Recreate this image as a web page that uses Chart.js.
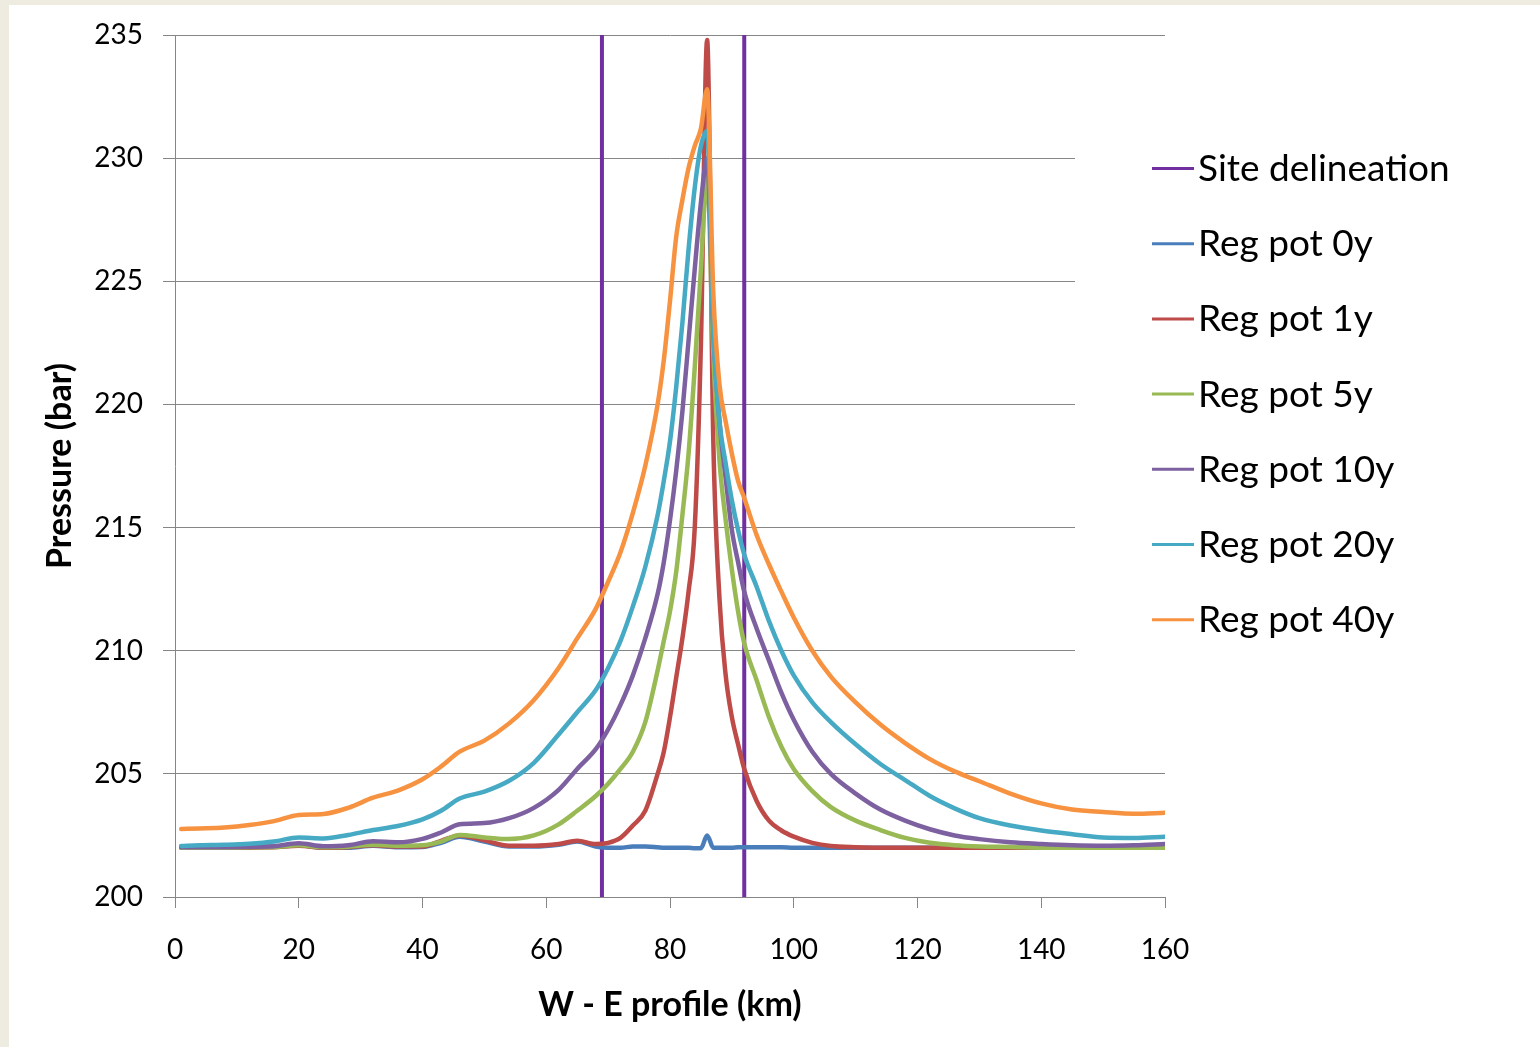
<!DOCTYPE html>
<html lang="en">
<head>
<meta charset="UTF-8">
<title>W - E pressure profile</title>
<style>
    html, body { margin: 0; padding: 0; background: #eeece1; }
    .frame { position: absolute; left: 9px; top: 5px; width: 1531px; height: 1042px; background: #fff; }
</style>
</head>
<body>
<div class="frame"><canvas id="chart"></canvas></div>

<script src="https://cdn.jsdelivr.net/npm/chart.js"></script>
<script>
// distance along the W - E profile (km)
const km = [1, 4, 8, 12, 16, 20, 24, 28, 32, 36,
            40, 43, 46, 50, 54, 58, 62, 65, 68, 70,
            72, 74, 76, 78, 79, 80, 81, 82, 83, 84,
            85, 86, 87, 88, 89, 90, 91, 92, 94, 96,
            98, 100, 103, 106, 110, 114, 118, 122, 126, 130,
            135, 140, 145, 150, 155, 160];

// pressure (bar) for each time step
const pot0 = [202.05, 202.07, 202.07, 202.05, 202.05, 202.1, 202.0, 202.0, 202.08, 202.02,
              202.03, 202.2, 202.45, 202.25, 202.05, 202.05, 202.12, 202.25, 202.05, 202.0,
              202.0, 202.05, 202.05, 202.02, 202.0, 202.0, 202.0, 202.0, 202.0, 201.98,
              201.98, 202.5, 202.0, 202.0, 202.0, 202.0, 202.02, 202.02, 202.02, 202.02,
              202.02, 202.0, 202.0, 202.0, 202.0, 202.0, 202.0, 202.0, 202.0, 202.0,
              202.0, 202.0, 202.0, 202.0, 202.0, 202.0];
const pot1 = [202.0, 202.0, 202.0, 202.0, 202.02, 202.08, 202.0, 202.02, 202.1, 202.05,
              202.05, 202.28, 202.5, 202.3, 202.08, 202.08, 202.15, 202.28, 202.15, 202.2,
              202.4, 202.9, 203.5, 205.0, 205.9, 207.3, 208.9, 210.5, 212.4, 215.0,
              222.5, 234.8, 218.5, 212.1, 209.0, 207.3, 206.2, 205.2, 203.9, 203.1,
              202.7, 202.45, 202.2, 202.07, 202.02, 202.0, 202.0, 202.0, 202.0, 202.0,
              202.0, 202.0, 202.0, 202.0, 202.0, 202.0];
const pot5 = [202.0, 202.0, 202.0, 202.02, 202.03, 202.1, 202.02, 202.04, 202.12, 202.08,
              202.1, 202.25, 202.52, 202.42, 202.35, 202.5, 202.95, 203.5, 204.1, 204.6,
              205.2, 205.9, 207.1, 209.2, 210.4, 211.6, 213.2, 215.5, 218.0, 221.5,
              225.5, 229.3, 222.0, 217.7, 215.3, 213.3, 211.6, 210.3, 208.8, 207.3,
              206.1, 205.2, 204.3, 203.65, 203.1, 202.72, 202.4, 202.2, 202.1, 202.05,
              202.03, 202.0, 202.0, 202.0, 202.0, 202.0];
const pot10 = [202.02, 202.02, 202.02, 202.04, 202.06, 202.18, 202.06, 202.1, 202.26, 202.22,
               202.36, 202.62, 202.95, 203.0, 203.2, 203.62, 204.35, 205.2, 206.0, 206.8,
               207.8, 209.0, 210.5, 212.3, 213.6, 215.3, 217.3, 219.7, 222.6, 225.5,
               228.2, 230.0, 223.0, 219.3, 217.0, 214.9, 213.6, 212.4, 210.9, 209.6,
               208.3, 207.2, 205.9, 205.0, 204.2, 203.55, 203.1, 202.75, 202.5, 202.35,
               202.22, 202.15, 202.1, 202.08, 202.1, 202.15];
const pot20 = [202.07, 202.1, 202.12, 202.16, 202.25, 202.42, 202.38, 202.52, 202.72, 202.88,
               203.15, 203.5, 204.0, 204.28, 204.72, 205.45, 206.6, 207.5, 208.4, 209.3,
               210.4, 211.8, 213.4, 215.5, 216.9, 218.5, 220.7, 223.3, 226.3, 228.8,
               230.5, 231.1, 223.0, 219.3, 217.6, 216.1, 214.9, 213.9, 212.6, 211.2,
               210.0, 209.0, 207.9, 207.1, 206.2, 205.4, 204.75, 204.1, 203.6, 203.2,
               202.9, 202.7, 202.55, 202.42, 202.4, 202.45];
const pot40 = [202.76, 202.78, 202.82, 202.92, 203.08, 203.33, 203.37, 203.62, 204.03, 204.32,
               204.78, 205.3, 205.9, 206.35, 207.05, 208.0, 209.3, 210.5, 211.7, 212.8,
               214.0, 215.6, 217.5, 220.0, 221.8, 224.2, 226.8, 228.3, 229.6, 230.5,
               231.2, 232.8, 224.5, 220.8, 219.3, 218.0, 216.9, 216.2, 214.7, 213.5,
               212.4, 211.35, 210.0, 208.95, 207.9, 207.0, 206.25, 205.6, 205.1, 204.7,
               204.2, 203.8, 203.55, 203.45, 203.38, 203.42];

// site boundaries (km) and the pressure span they are drawn over
const siteKm = [69, 92];
const siteSpan = [200, 235];

const seriesNames = ['Reg pot 0y', 'Reg pot 1y', 'Reg pot 5y', 'Reg pot 10y', 'Reg pot 20y', 'Reg pot 40y'];
const seriesValues = [pot0, pot1, pot5, pot10, pot20, pot40];
const seriesColors = ['#4a7ebb', '#be4b48', '#98b954', '#7d60a0', '#46aac5', '#f69240'];
const siteName = 'Site delineation';
const siteColor = '#7030a0';

const FONT = 'Lato';

// two vertical segments, separated by a gap point
const sitePoints = [
    { x: siteKm[0], y: siteSpan[0] }, { x: siteKm[0], y: siteSpan[1] },
    { x: (siteKm[0] + siteKm[1]) / 2, y: null },
    { x: siteKm[1], y: siteSpan[1] }, { x: siteKm[1], y: siteSpan[0] }
];

const datasets = [{
    label: siteName,
    data: sitePoints,
    borderColor: siteColor,
    borderWidth: 4,
    pointRadius: 0,
    spanGaps: false,
    order: seriesNames.length + 1
}];
seriesNames.forEach((name, i) => {
    datasets.push({
        label: name,
        data: km.map((x, j) => ({ x: x, y: seriesValues[i][j] })),
        borderColor: seriesColors[i],
        borderWidth: 4.5,
        pointRadius: 0,
        cubicInterpolationMode: 'monotone',
        borderJoinStyle: 'round',
        borderCapStyle: 'round',
        order: seriesNames.length - i
    });
});

// Excel-style legend box on the right, covering the gridline ends
const sideLegend = {
    id: 'sideLegend',
    afterDraw(chart) {
        const ctx = chart.ctx;
        ctx.save();
        ctx.fillStyle = '#fff';
        ctx.fillRect(1066, 40, 465, 655);
        const names = [siteName].concat(seriesNames);
        const colors = [siteColor].concat(seriesColors);
        ctx.font = '37px ' + FONT;
        ctx.textAlign = 'left';
        ctx.textBaseline = 'alphabetic';
        names.forEach((n, i) => {
            const y = 163.5 + i * 75.2;
            ctx.strokeStyle = colors[i];
            ctx.lineWidth = 3;
            ctx.beginPath();
            ctx.moveTo(1143, y);
            ctx.lineTo(1185, y);
            ctx.stroke();
            ctx.fillStyle = '#000';
            ctx.fillText(n, 1189, y + 12.5);
        });
        ctx.restore();
    }
};

new Chart(document.getElementById('chart'), {
    type: 'line',
    data: { datasets: datasets },
    options: {
        responsive: true,
        maintainAspectRatio: false,
        animation: false,
        layout: { padding: { top: 30, right: 375, left: 0, bottom: 0 } },
        plugins: { legend: { display: false }, tooltip: { enabled: false } },
        scales: {
            x: {
                type: 'linear',
                min: 0,
                max: 160,
                ticks: { stepSize: 20, color: '#000', font: { family: FONT, size: 28 }, padding: 25, maxRotation: 0 },
                grid: { drawOnChartArea: false, tickLength: 11, color: '#868686' },
                border: { color: '#868686' },
                title: {
                    display: true,
                    text: 'W - E profile (km)',
                    color: '#000',
                    font: { family: FONT, size: 34, weight: 'bold' },
                    padding: { top: 0, bottom: 22 }
                },
                afterFit: s => { s.height = 150; }
            },
            y: {
                min: 200,
                max: 235,
                ticks: { stepSize: 5, color: '#000', font: { family: FONT, size: 28 }, padding: 20 },
                grid: { color: '#868686', tickLength: 12 },
                border: { color: '#868686' },
                title: {
                    display: true,
                    text: 'Pressure (bar)',
                    color: '#000',
                    font: { family: FONT, size: 34, weight: 'bold' },
                    padding: { top: 31, bottom: 0 }
                },
                afterFit: s => { s.width = 166; s.paddingTop = 0; s.paddingBottom = 0; }
            }
        }
    },
    plugins: [sideLegend]
});
</script>
</body>
</html>
